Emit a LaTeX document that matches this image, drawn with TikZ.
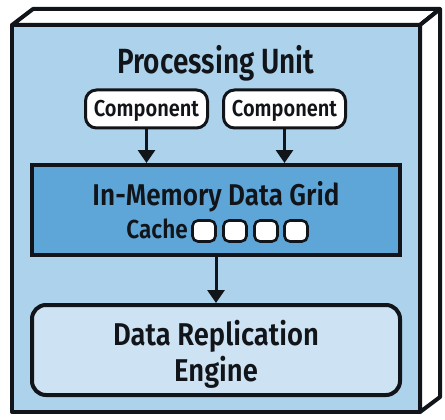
\documentclass[tikz,border=0pt]{standalone}
\usepackage{fontspec}
\setmainfont{Fira Sans SemiBold}[FakeStretch=0.87]
\newfontfamily\titlefont{Fira Sans SemiBold}[FakeStretch=0.80]
\usetikzlibrary{arrows.meta}
\definecolor{facebg}{HTML}{ADD2EC}
\definecolor{gridbg}{HTML}{5EA6D8}
\definecolor{enginebg}{HTML}{CDE3F3}
\definecolor{ink}{HTML}{111418}
\tikzset{
  edge/.style={draw=ink,line width=4pt,line join=round},
  compbox/.style={draw=ink,line width=3pt,fill=white,rounded corners=11pt,minimum width=122pt,minimum height=38pt,inner sep=0pt},
  cachebox/.style={draw=ink,line width=2.6pt,fill=white,rounded corners=5.5pt,minimum width=23pt,minimum height=21pt,inner sep=0pt},
  arr/.style={draw=ink,line width=3pt,-{Triangle[length=13pt,width=17pt]}},
  lbl/.style={text=ink,anchor=base,inner sep=0pt}
}
\begin{document}
\begin{tikzpicture}[x=1pt,y=-1pt]
\useasboundingbox (0,0) rectangle (445,420);
% 3D box faces
\draw[edge,fill=white] (12,25) -- (33,9) -- (440,9) -- (420,25) -- cycle;
\draw[edge,fill=white] (420,25) -- (440,9) -- (440,397) -- (420,412) -- cycle;
\draw[edge,fill=facebg] (12,25) rectangle (420,412);
\node[lbl,font=\titlefont\fontsize{35}{35}\selectfont] (title) at (216,74) {Processing Unit};
% components
\node[compbox] (comp1) at (146.5,109) {};
\node[compbox] (comp2) at (284.5,109) {};
\node[lbl,font=\fontsize{23}{23}\selectfont] (c1t) at (146.5,117) {Component};
\node[lbl,font=\fontsize{23}{23}\selectfont] (c2t) at (284.5,117) {Component};
% grid
\node[draw=ink,line width=4pt,fill=gridbg,minimum width=368pt,minimum height=90pt,inner sep=0pt] (grid) at (216,210) {};
\node[lbl,font=\fontsize{30}{30}\selectfont] (gridt) at (216,205) {In-Memory Data Grid};
\node[lbl,anchor=base east,font=\fontsize{26}{26}\selectfont] (cache) at (188,238) {Cache};
\node[cachebox] (s1) at (204,231) {};
\node[cachebox] (s2) at (235,231) {};
\node[cachebox] (s3) at (266,231) {};
\node[cachebox] (s4) at (296,231) {};
% engine
\node[draw=ink,line width=4pt,fill=enginebg,rounded corners=14pt,minimum width=368pt,minimum height=90pt,inner sep=0pt] (engine) at (216,350) {};
\node[lbl,font=\fontsize{31.5}{31.5}\selectfont] (e1) at (216,345) {Data Replication};
\node[lbl,font=\fontsize{31.5}{31.5}\selectfont] (e2) at (216,381) {Engine};
% arrows
\draw[arr] (comp1.south) -- (comp1.south |- grid.north);
\draw[arr] (comp2.south) -- (comp2.south |- grid.north);
\draw[arr] (grid.south) -- (engine.north);
\end{tikzpicture}
\end{document}
